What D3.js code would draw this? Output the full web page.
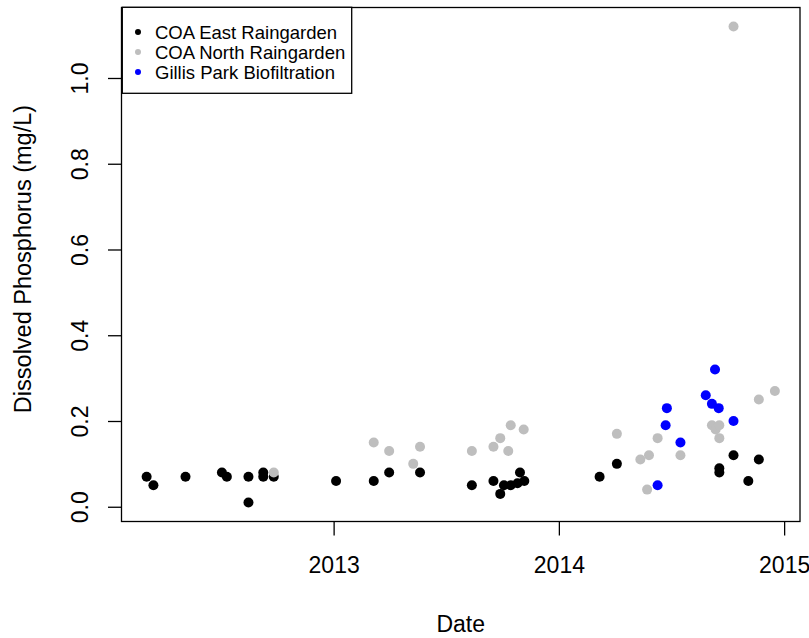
<!DOCTYPE html>
<html>
<head>
<meta charset="utf-8">
<script src="https://cdn.jsdelivr.net/npm/d3@7/dist/d3.min.js"></script>
<style>
  html, body { margin: 0; padding: 0; background: #fff; }
  svg { display: block; }
  text { font-family: "Liberation Sans", Arial, Helvetica, sans-serif; fill: #000; }
</style>
</head>
<body>
<svg id="chart" width="809" height="638"></svg>
<script>
// ---- data ----
const seriesNames = ["COA East Raingarden", "COA North Raingarden", "Gillis Park Biofiltration"];
const seriesColors = ["#000000", "#BEBEBE", "#0000FF"];

const eastDates = ["2012-03-04","2012-03-15","2012-05-06","2012-07-04","2012-07-12","2012-08-16","2012-08-16",
  "2012-09-09","2012-09-09","2012-09-26","2013-01-05","2013-03-07","2013-04-01","2013-05-21","2013-08-13",
  "2013-09-17","2013-09-28","2013-10-04","2013-10-15","2013-10-26","2013-10-30","2013-11-06",
  "2014-03-08","2014-04-05","2014-09-18","2014-09-18","2014-10-11","2014-11-04","2014-11-21"];
const eastValues = [0.07,0.05,0.07,0.08,0.07,0.07,0.01,
  0.08,0.07,0.07,0.06,0.06,0.08,0.08,0.05,
  0.06,0.03,0.05,0.05,0.055,0.08,0.06,
  0.07,0.10,0.09,0.08,0.12,0.06,0.11];

const northDates = ["2012-09-26","2013-03-07","2013-04-01","2013-05-10","2013-05-21","2013-08-13","2013-09-17",
  "2013-09-28","2013-10-11","2013-10-15","2013-11-05","2014-04-05","2014-05-13","2014-05-24","2014-05-27",
  "2014-06-10","2014-07-17","2014-09-06","2014-09-12","2014-09-18","2014-09-18","2014-10-11","2014-11-21","2014-12-17"];
const northValues = [0.08,0.15,0.13,0.10,0.14,0.13,0.14,
  0.16,0.13,0.19,0.18,0.17,0.11,0.04,0.12,
  0.16,0.12,0.19,0.18,0.19,0.16,1.12,0.25,0.27];

const gillisDates = ["2014-06-10","2014-06-23","2014-06-25","2014-07-17","2014-08-27","2014-09-06","2014-09-11","2014-09-17","2014-10-11"];
const gillisValues = [0.05,0.19,0.23,0.15,0.26,0.24,0.32,0.23,0.20];

const xTickYears = [2013, 2014, 2015];
const yTickValues = [0, 0.2, 0.4, 0.6, 0.8, 1.0];
const xLabel = "Date";
const yLabel = "Dissolved Phosphorus (mg/L)";

// ---- build ----
const parse = d3.timeParse("%Y-%m-%d");
const seriesDates = [eastDates, northDates, gillisDates];
const seriesValues = [eastValues, northValues, gillisValues];
const series = seriesNames.map((name, i) => ({
  name, color: seriesColors[i],
  points: seriesDates[i].map((d, j) => ({ date: parse(d), value: seriesValues[i][j] }))
}));
const all = series.flatMap(s => s.points);

const L = 121.5, R = 800, T = 7.5, B = 521.5;

// R-style 4% padding
const tExt = d3.extent(all, d => +d.date);
const tPad = (tExt[1] - tExt[0]) * 0.04;
const vExt = d3.extent(all, d => d.value);
const vPad = (vExt[1] - vExt[0]) * 0.04;

const x = d3.scaleTime().domain([new Date(tExt[0] - tPad), new Date(tExt[1] + tPad)]).range([L, R]);
const y = d3.scaleLinear().domain([vExt[0] - vPad, vExt[1] + vPad]).range([B, T]);

const svg = d3.select("#chart");

// points
series.forEach(s => {
  svg.append("g").selectAll("circle").data(s.points).join("circle")
    .attr("cx", d => x(d.date)).attr("cy", d => y(d.value))
    .attr("r", 5).attr("fill", s.color);
});

// box
svg.append("rect").attr("x", L).attr("y", T).attr("width", R - L).attr("height", B - T)
  .attr("fill", "none").attr("stroke", "#000").attr("stroke-width", 1.3);

// x axis
const xAxis = d3.axisBottom(x)
  .tickValues(xTickYears.map(yr => new Date(yr, 0, 1)))
  .tickFormat(d3.timeFormat("%Y"))
  .tickSize(14);
const gx = svg.append("g").attr("transform", `translate(0,${B})`).call(xAxis);
gx.select(".domain").remove();
gx.selectAll(".tick line").attr("stroke", "#000").attr("stroke-width", 1.3);
gx.selectAll(".tick text").attr("y", 51.5).attr("dy", 0)
  .style("font-size", "23px").style("font-family", "'Liberation Sans', Arial, sans-serif").attr("fill", "#000");

// y axis
const yAxis = d3.axisLeft(y).tickValues(yTickValues).tickFormat(d3.format(".1f")).tickSize(13.5);
const gy = svg.append("g").attr("transform", `translate(${L},0)`).call(yAxis);
gy.select(".domain").remove();
gy.selectAll(".tick line").attr("stroke", "#000").attr("stroke-width", 1.3);
gy.selectAll(".tick text")
  .attr("x", 0).attr("y", -33.5).attr("dy", 0)
  .attr("transform", "rotate(-90)")
  .attr("text-anchor", "middle")
  .style("font-size", "23px").style("font-family", "'Liberation Sans', Arial, sans-serif").attr("fill", "#000");

// axis titles
svg.append("text").attr("x", (L + R) / 2).attr("y", 632).attr("text-anchor", "middle")
  .style("font-size", "23px").text(xLabel);
svg.append("text").attr("transform", `translate(31,259) rotate(-90)`).attr("text-anchor", "middle")
  .style("font-size", "23.5px").text(yLabel);

// legend
const lg = svg.append("g");
lg.append("rect").attr("x", 122.3).attr("y", 7.3).attr("width", 229.4).attr("height", 86)
  .attr("fill", "#fff").attr("stroke", "#000").attr("stroke-width", 1.3);
series.forEach((s, i) => {
  const cy = 32 + i * 20;
  lg.append("circle").attr("cx", 138).attr("cy", cy).attr("r", 3).attr("fill", s.color);
  lg.append("text").attr("x", 155).attr("y", cy + 6.5).style("font-size", "18.5px").text(s.name);
});
</script>
</body>
</html>
